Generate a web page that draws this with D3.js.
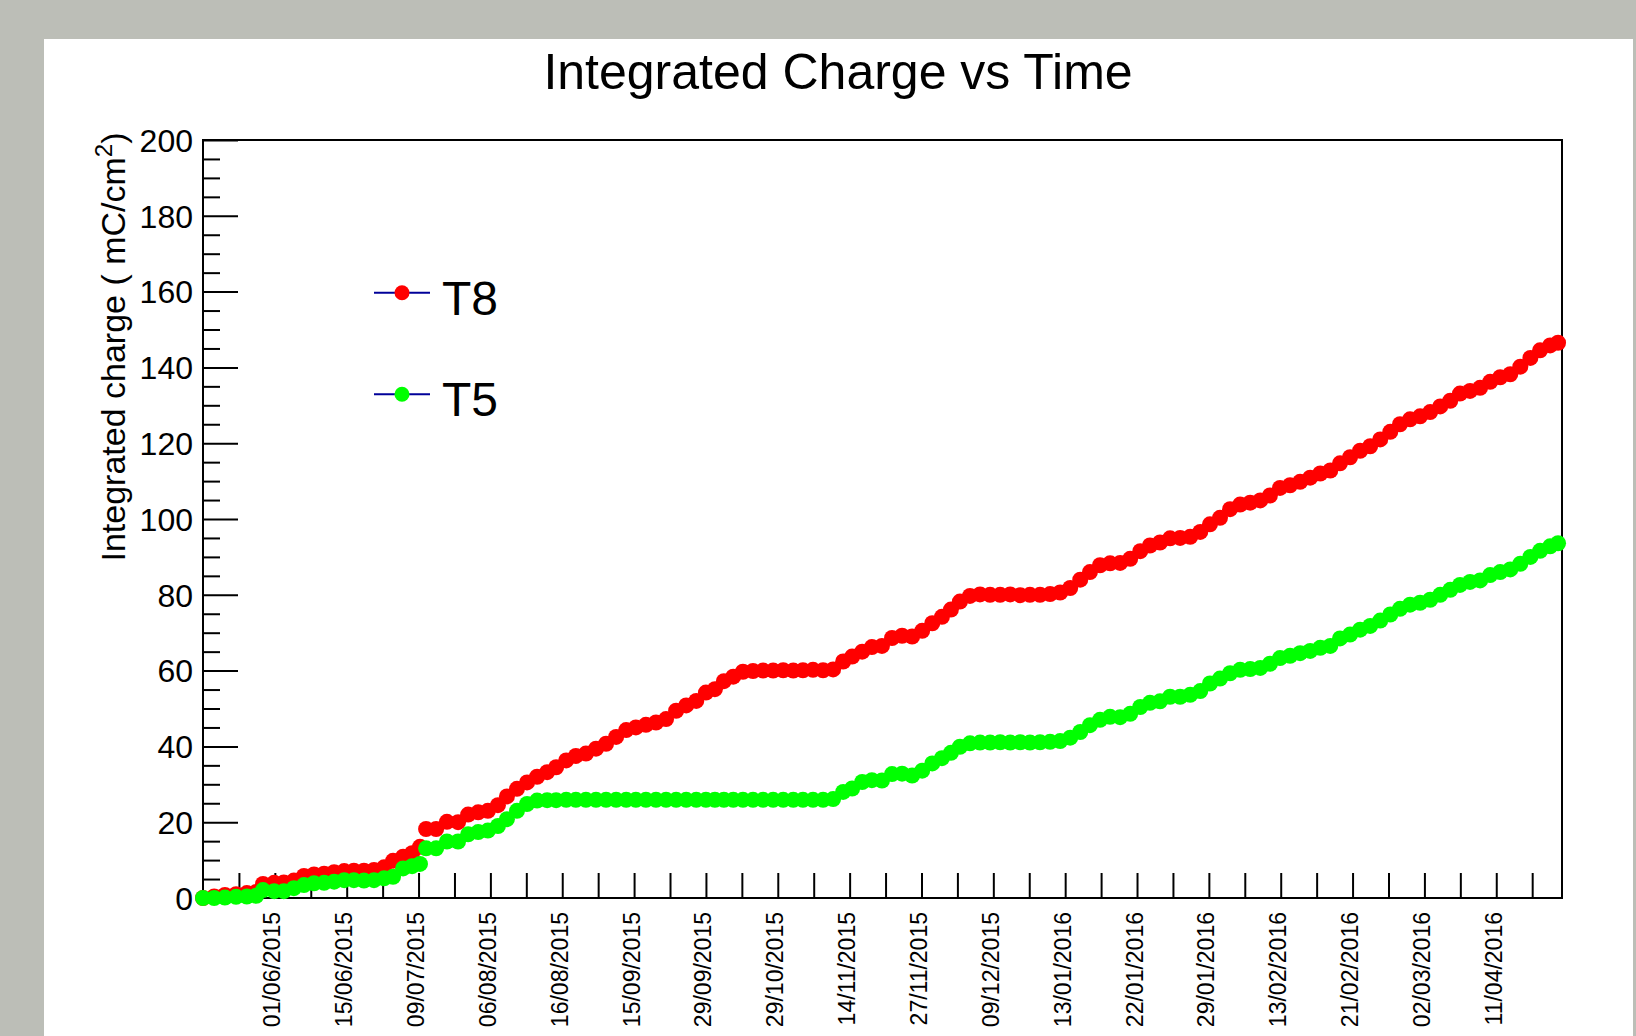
<!DOCTYPE html>
<html>
<head>
<meta charset="utf-8">
<script src="https://cdn.jsdelivr.net/npm/d3@7"></script>
<style>
  body { margin: 0; background: #bcbeb7; }
  svg { display: block; }
  text { font-family: "Liberation Sans", Arial, sans-serif; }
</style>
</head>
<body>
<div id="chart"></div>
<script>
      var w = 1636;
      var h = 1036;

      // position along the x axis, one unit per tick
      var xPos = [0, 0.31, 0.61, 0.92, 1.22, 1.48, 1.67, 1.98, 2.25, 2.53, 2.81, 3.09, 3.37, 3.65, 3.93, 4.20,
        4.48, 4.76, 5.04, 5.29, 5.57, 5.82, 6.04, 6.21, 6.49, 6.79, 7.10, 7.38, 7.66, 7.93, 8.21, 8.46,
        8.74, 9.02, 9.30, 9.58, 9.83, 10.11, 10.38, 10.66, 10.94, 11.22, 11.50, 11.78, 12.05, 12.33, 12.61, 12.89,
        13.17, 13.45, 13.73, 14.00, 14.25, 14.50, 14.76, 15.03, 15.31, 15.59, 15.87, 16.15, 16.43, 16.70, 16.98, 17.26,
        17.54, 17.82, 18.07, 18.35, 18.62, 18.90, 19.18, 19.46, 19.74, 20.02, 20.30, 20.57, 20.82, 21.07, 21.35, 21.63,
        21.91, 22.19, 22.47, 22.75, 23.02, 23.30, 23.58, 23.86, 24.14, 24.42, 24.69, 24.97, 25.25, 25.53, 25.81, 26.09,
        26.36, 26.64, 26.92, 27.20, 27.48, 27.76, 28.03, 28.31, 28.59, 28.87, 29.15, 29.43, 29.70, 29.98, 30.26, 30.54,
        30.82, 31.10, 31.38, 31.65, 31.93, 32.21, 32.49, 32.77, 33.05, 33.32, 33.60, 33.88, 34.16, 34.44, 34.72, 34.99,
        35.27, 35.55, 35.83, 36.11, 36.39, 36.67, 36.95, 37.22, 37.50, 37.72];

      var t8Charge = [0, 0.4, 0.8, 1.0, 1.3, 1.6, 3.7, 4.0, 4.1, 4.6, 5.8, 6.2, 6.4, 6.8, 7.1, 7.2,
        7.2, 7.4, 8.1, 9.8, 10.9, 11.8, 13.5, 18.2, 18.2, 20.1, 20.0, 22.0, 22.6, 23.0, 24.5, 26.8,
        28.8, 30.5, 32.0, 33.2, 34.5, 36.3, 37.5, 38.1, 39.4, 40.7, 42.5, 44.3, 45.0, 45.7, 46.3, 47.2,
        49.4, 50.8, 52.0, 54.2, 55.1, 57.2, 58.4, 59.7, 59.9, 60.0, 60.0, 60.1, 60.0, 60.1, 60.2, 60.1,
        60.3, 62.4, 63.7, 65.0, 66.2, 66.5, 68.6, 69.2, 69.0, 70.5, 72.5, 74.2, 76.1, 78.2, 79.7, 80.1,
        80.0, 80.0, 80.1, 79.9, 80.0, 80.0, 80.2, 80.6, 81.8, 84.0, 86.0, 87.8, 88.3, 88.4, 89.5, 91.5,
        93.0, 93.8, 94.9, 95.0, 95.3, 96.6, 98.6, 100.3, 102.6, 103.8, 104.3, 104.9, 106.2, 108.2, 108.9, 109.8,
        110.9, 112.0, 112.8, 114.7, 116.3, 118.0, 119.2, 121.0, 123.0, 125.0, 126.3, 127.1, 128.2, 129.7, 131.2, 133.1,
        133.8, 134.6, 136.2, 137.4, 138.2, 140.2, 142.5, 144.5, 145.8, 146.5];

      var t5Charge = [0, 0, 0.1, 0.3, 0.4, 0.6, 2.1, 1.8, 1.8, 2.6, 3.4, 3.9, 4.0, 4.3, 4.7, 4.7,
        4.6, 4.7, 5.2, 5.6, 7.8, 8.4, 9.0, 13.1, 13.1, 14.9, 14.9, 16.8, 17.4, 17.8, 19.0, 20.8,
        23.0, 24.8, 25.7, 25.8, 25.8, 25.9, 25.9, 25.9, 25.9, 25.9, 25.9, 25.9, 25.9, 25.9, 25.9, 25.9,
        25.9, 25.9, 25.9, 25.9, 25.9, 25.9, 25.9, 25.9, 25.9, 25.9, 25.9, 25.9, 25.9, 25.9, 25.9, 25.9,
        26.1, 28.0, 28.9, 30.6, 31.1, 31.0, 32.7, 32.8, 32.3, 33.6, 35.5, 36.9, 38.3, 39.9, 40.8, 41.0,
        41.0, 41.1, 41.0, 41.1, 41.0, 41.1, 41.2, 41.4, 42.3, 43.8, 45.6, 47.0, 47.8, 47.7, 48.6, 50.4,
        51.5, 51.9, 53.1, 53.1, 53.6, 54.6, 56.6, 57.9, 59.3, 60.2, 60.4, 60.7, 61.8, 63.3, 63.9, 64.6,
        65.2, 66.0, 66.5, 68.5, 69.5, 70.8, 71.8, 73.2, 74.8, 76.3, 77.4, 77.9, 78.7, 80.0, 81.3, 82.6,
        83.4, 83.8, 85.2, 86.0, 86.7, 88.2, 90.0, 91.6, 92.8, 93.6];

      var dateLabels = ['01/06/2015', '15/06/2015', '09/07/2015', '06/08/2015', '16/08/2015', '15/09/2015',
        '29/09/2015', '29/10/2015', '14/11/2015', '27/11/2015', '09/12/2015', '13/01/2016', '22/01/2016',
        '29/01/2016', '13/02/2016', '21/02/2016', '02/03/2016', '11/04/2016'];
      var labelTicks = [2, 4, 6, 8, 10, 12, 14, 16, 18, 20, 22, 24, 26, 28, 30, 32, 34, 36];
      var xTicks = d3.range(1, 38);
      var yMajor = [0, 20, 40, 60, 80, 100, 120, 140, 160, 180, 200];
      var yMinor = d3.range(0, 201, 5).filter(function(v) { return v % 20 !== 0; });

      var seriesNames = ['T8', 'T5'];
      var seriesColors = ['#ff0000', '#00ff00'];
      var seriesValues = [t8Charge, t5Charge];

      var padL = 203, padR = 1562, padT = 140, padB = 898;

      //Create scale functions
      var xScale = d3.scaleLinear()
                 .domain([0, 37.83])
                 .range([padL, padR]);

      var yScale = d3.scaleLinear()
                 .domain([0, 200])
                 .range([padB, padT]);

      //Create SVG element
      var svg = d3.select("#chart")
            .append("svg")
            .attr("width", w)
            .attr("height", h);

      svg.append("rect")
        .attr("x", 44)
        .attr("y", 39)
        .attr("width", 1589)
        .attr("height", h - 39)
        .style("fill", "#ffffff");

      svg.append("text")
        .attr("x", 838)
        .attr("y", 89)
        .attr("text-anchor", "middle")
        .style("font-size", "50px")
        .text("Integrated Charge vs Time");

      //Create Y axis (major + minor ticks)
      var yAxis = d3.axisLeft()
                .scale(yScale)
                .tickValues(yMajor)
                .tickSizeInner(-35)
                .tickSizeOuter(0)
                .tickPadding(10);

      var yAxisMinor = d3.axisLeft()
                .scale(yScale)
                .tickValues(yMinor)
                .tickSizeInner(-17)
                .tickSizeOuter(0)
                .tickFormat("");

      var gy = svg.append("g")
        .attr("transform", "translate(" + padL + ",0)")
        .call(yAxis);
      gy.attr("font-family", null).attr("font-size", null);
      gy.selectAll("text")
        .style("font-size", "32px")
        .attr("dy", "0.35em");

      svg.append("g")
        .attr("transform", "translate(" + padL + ",0)")
        .call(yAxisMinor);

      //Create X axis
      var xAxis = d3.axisBottom()
                .scale(xScale)
                .tickValues(xTicks)
                .tickSizeInner(-25)
                .tickSizeOuter(0)
                .tickFormat("");

      svg.append("g")
        .attr("transform", "translate(0," + padB + ")")
        .call(xAxis);

      var xLabels = d3.axisBottom()
                .scale(xScale)
                .tickValues(labelTicks)
                .tickSize(0)
                .tickFormat(function(d, i) { return dateLabels[i]; });

      var gx = svg.append("g")
        .attr("transform", "translate(0," + padB + ")")
        .call(xLabels);
      gx.attr("font-family", null).attr("font-size", null);
      gx.selectAll("text")
        .style("font-size", "23px")
        .attr("text-anchor", "end")
        .attr("transform", "rotate(-90)")
        .attr("x", -14)
        .attr("y", 5)
        .attr("dy", 0);

      svg.selectAll(".domain").remove();
      svg.selectAll(".tick line")
        .style("stroke", "#000")
        .style("stroke-width", 2);

      //Frame
      svg.append("rect")
        .attr("x", padL)
        .attr("y", padT)
        .attr("width", padR - padL)
        .attr("height", padB - padT)
        .style("fill", "none")
        .style("stroke", "#000")
        .style("stroke-width", 2);

      //Y axis title
      var ytitle = svg.append("text")
        .attr("transform", "translate(125,347) rotate(-90)")
        .attr("text-anchor", "middle")
        .style("font-size", "34px");
      ytitle.append("tspan").text("Integrated charge ( mC/cm");
      ytitle.append("tspan").attr("dy", -13).style("font-size", "24px").text("2");
      ytitle.append("tspan").attr("dy", 13).text(")");

      //Create points
      seriesValues.forEach(function(vals, s) {
        svg.append("g")
          .selectAll("circle")
          .data(vals)
          .enter()
          .append("circle")
          .attr("cx", function(d, i) { return xScale(xPos[i]); })
          .attr("cy", function(d) { return yScale(d); })
          .attr("r", 8)
          .style("fill", seriesColors[s]);
      });

      //Legend
      var legend = svg.selectAll(".legend")
        .data(seriesNames)
        .enter().append("g")
        .attr("class", "legend")
        .attr("transform", function(d, i) { return "translate(374," + (292.7 + i * 101.6) + ")"; });

      legend.append("line")
        .attr("x1", 0)
        .attr("x2", 56)
        .style("stroke", "#000099")
        .style("stroke-width", 2);

      legend.append("circle")
        .attr("cx", 28)
        .attr("r", 7.5)
        .style("fill", function(d, i) { return seriesColors[i]; });

      legend.append("text")
        .attr("x", 68)
        .attr("y", 22)
        .style("font-size", "48px")
        .text(function(d) { return d; });
</script>
</body>
</html>
